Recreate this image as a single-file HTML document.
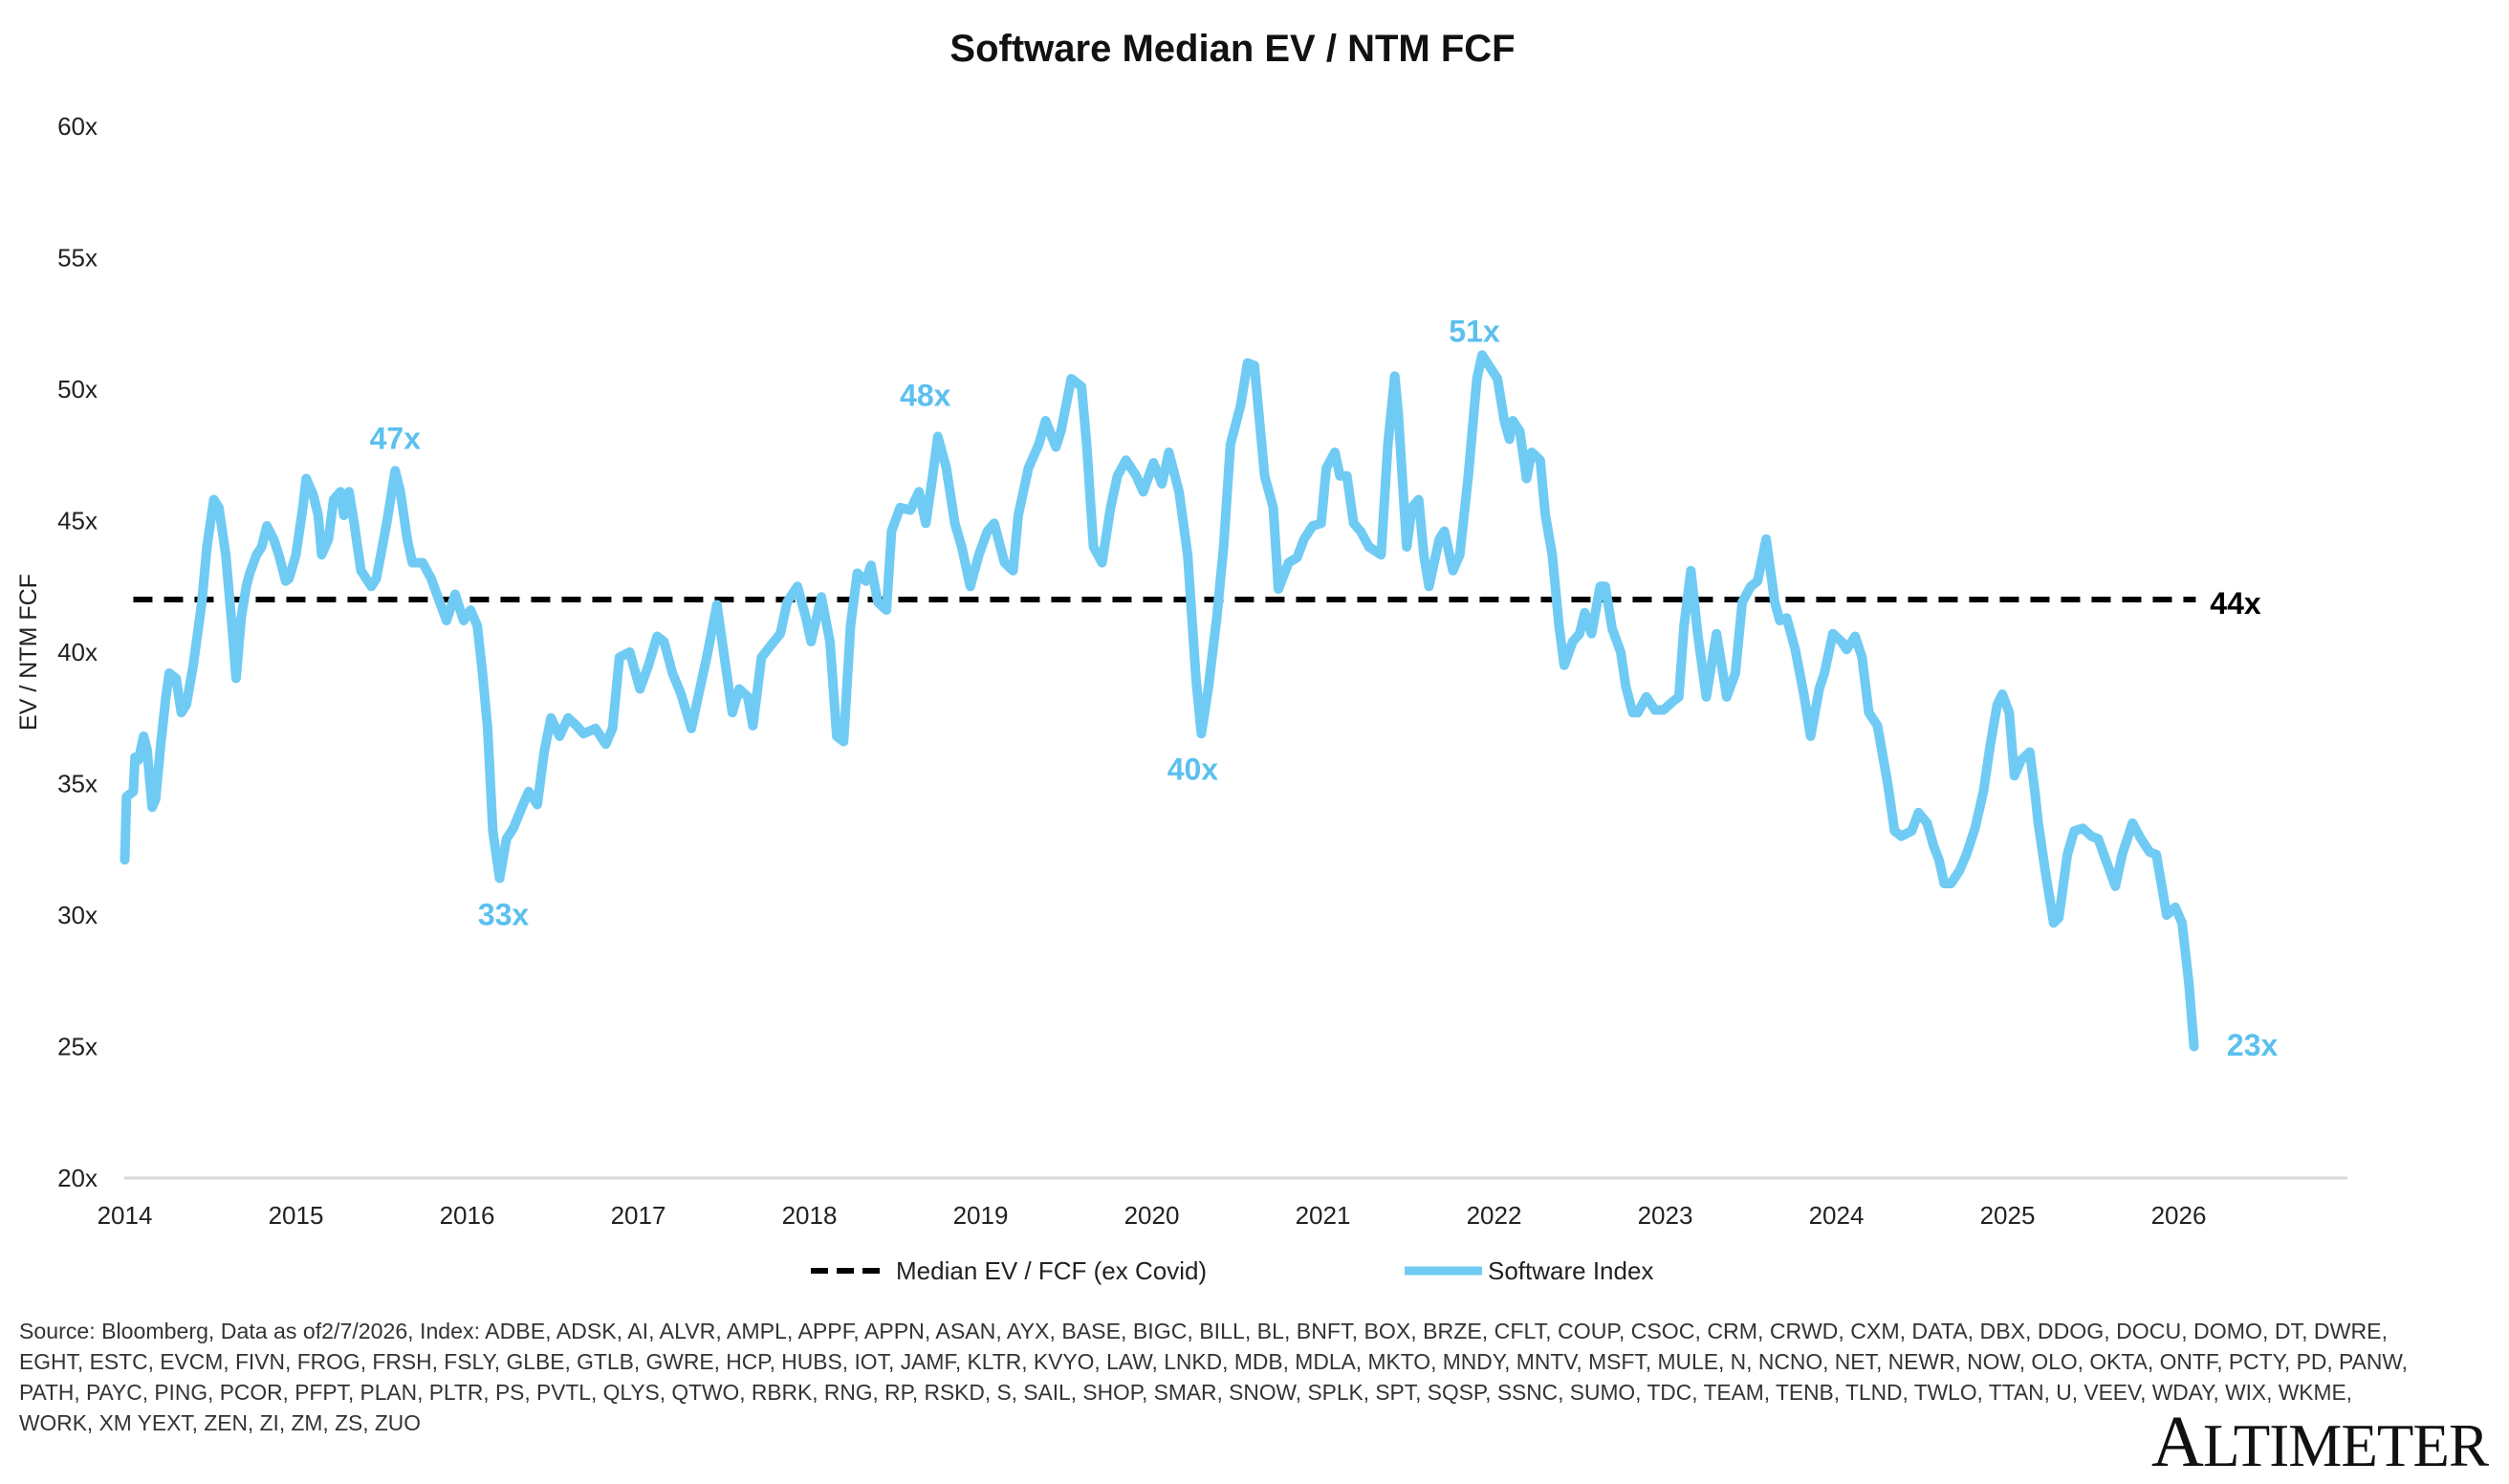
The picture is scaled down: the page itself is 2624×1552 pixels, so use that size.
<!DOCTYPE html>
<html><head><meta charset="utf-8"><style>
html,body{margin:0;padding:0;background:#fff;}
svg{display:block;font-family:"Liberation Sans",sans-serif;}
</style></head><body>
<svg id="chart" width="2624" height="1552" viewBox="0 0 2624 1552" xmlns="http://www.w3.org/2000/svg">
<text x="1289" y="64" text-anchor="middle" font-size="40" font-weight="bold" fill="#111">Software Median EV / NTM FCF</text>
<g id="yticks"></g>
<g id="xticks"></g>
<text transform="translate(38,682) rotate(-90)" text-anchor="middle" font-size="25" fill="#222">EV / NTM FCF</text>
<line x1="130" y1="1232" x2="2455" y2="1232" stroke="#d9d9d9" stroke-width="3"/>
<g id="marks"></g>
<g id="labels"></g>
<g>
<line x1="848" y1="1329" x2="925" y2="1329" stroke="#000" stroke-width="6" stroke-dasharray="18,9"/>
<text x="937" y="1338" font-size="26" fill="#222">Median EV / FCF (ex Covid)</text>
<line x1="1469" y1="1329" x2="1550" y2="1329" stroke="#6fcbf3" stroke-width="9"/>
<text x="1556" y="1338" font-size="26" fill="#222">Software Index</text>
</g>
<g font-size="23" fill="#333">
<text x="20" y="1400" textLength="2477" lengthAdjust="spacingAndGlyphs">Source: Bloomberg, Data as of2/7/2026, Index: ADBE, ADSK, AI, ALVR, AMPL, APPF, APPN, ASAN, AYX, BASE, BIGC, BILL, BL, BNFT, BOX,  BRZE, CFLT, COUP, CSOC, CRM, CRWD, CXM, DATA, DBX, DDOG, DOCU, DOMO, DT, DWRE,</text>
<text x="20" y="1432" textLength="2498" lengthAdjust="spacingAndGlyphs">EGHT, ESTC, EVCM, FIVN, FROG, FRSH, FSLY, GLBE, GTLB, GWRE, HCP, HUBS, IOT, JAMF, KLTR, KVYO, LAW, LNKD, MDB, MDLA, MKTO, MNDY, MNTV, MSFT, MULE, N, NCNO, NET, NEWR, NOW, OLO, OKTA, ONTF, PCTY, PD, PANW,</text>
<text x="20" y="1464" textLength="2440" lengthAdjust="spacingAndGlyphs">PATH, PAYC, PING, PCOR, PFPT, PLAN, PLTR, PS, PVTL, QLYS, QTWO, RBRK, RNG, RP, RSKD, S, SAIL, SHOP, SMAR, SNOW, SPLK, SPT, SQSP, SSNC, SUMO, TDC, TEAM, TENB, TLND, TWLO, TTAN, U, VEEV, WDAY, WIX, WKME,</text>
<text x="20" y="1496" textLength="420" lengthAdjust="spacingAndGlyphs">WORK, XM YEXT, ZEN, ZI, ZM, ZS, ZUO</text>
</g>
<text x="2250" y="1533" font-family="Liberation Serif, serif" fill="#111" textLength="353" lengthAdjust="spacing"><tspan font-size="76">A</tspan><tspan font-size="63">LTIMETER</tspan></text>
</svg>
<script>
const yTicks=[20,25,30,35,40,45,50,55,60];
const xTicks=[2014,2015,2016,2017,2018,2019,2020,2021,2022,2023,2024,2025,2026];
const medianValue=42;
const dates=[2014.00,2014.01,2014.05,2014.06,2014.08,2014.11,2014.13,2014.16,2014.18,2014.21,2014.24,2014.26,2014.30,2014.33,2014.36,2014.40,2014.45,2014.48,2014.52,2014.55,2014.59,2014.63,2014.65,2014.68,2014.71,2014.73,2014.77,2014.80,2014.83,2014.87,2014.90,2014.94,2014.96,2015.00,2015.04,2015.06,2015.10,2015.13,2015.15,2015.19,2015.22,2015.26,2015.28,2015.31,2015.34,2015.38,2015.44,2015.47,2015.53,2015.58,2015.61,2015.65,2015.68,2015.74,2015.79,2015.84,2015.88,2015.93,2015.98,2016.02,2016.06,2016.09,2016.12,2016.15,2016.19,2016.23,2016.27,2016.32,2016.36,2016.41,2016.45,2016.49,2016.54,2016.59,2016.64,2016.68,2016.75,2016.81,2016.85,2016.89,2016.95,2017.01,2017.06,2017.11,2017.15,2017.20,2017.25,2017.31,2017.36,2017.40,2017.46,2017.51,2017.55,2017.59,2017.64,2017.67,2017.72,2017.78,2017.83,2017.87,2017.93,2017.98,2018.01,2018.07,2018.12,2018.16,2018.20,2018.24,2018.28,2018.33,2018.36,2018.40,2018.45,2018.48,2018.53,2018.59,2018.64,2018.68,2018.72,2018.75,2018.80,2018.85,2018.89,2018.94,2018.99,2019.04,2019.08,2019.14,2019.19,2019.22,2019.28,2019.34,2019.38,2019.44,2019.47,2019.53,2019.59,2019.62,2019.66,2019.71,2019.76,2019.80,2019.85,2019.91,2019.95,2020.01,2020.06,2020.10,2020.16,2020.21,2020.26,2020.29,2020.33,2020.38,2020.42,2020.46,2020.52,2020.56,2020.60,2020.66,2020.71,2020.74,2020.80,2020.85,2020.89,2020.94,2020.99,2021.02,2021.07,2021.10,2021.14,2021.18,2021.22,2021.27,2021.34,2021.38,2021.42,2021.44,2021.49,2021.52,2021.56,2021.59,2021.62,2021.68,2021.71,2021.76,2021.80,2021.85,2021.90,2021.93,2021.99,2022.02,2022.06,2022.09,2022.11,2022.15,2022.19,2022.22,2022.27,2022.30,2022.34,2022.38,2022.41,2022.46,2022.50,2022.53,2022.57,2022.62,2022.65,2022.69,2022.74,2022.77,2022.81,2022.84,2022.89,2022.94,2022.99,2023.04,2023.08,2023.11,2023.15,2023.19,2023.24,2023.30,2023.36,2023.41,2023.45,2023.50,2023.54,2023.59,2023.64,2023.67,2023.71,2023.76,2023.81,2023.85,2023.90,2023.93,2023.98,2024.03,2024.06,2024.11,2024.15,2024.19,2024.24,2024.30,2024.34,2024.38,2024.44,2024.48,2024.53,2024.57,2024.60,2024.63,2024.67,2024.72,2024.76,2024.81,2024.86,2024.90,2024.94,2024.97,2025.01,2025.04,2025.08,2025.13,2025.16,2025.18,2025.22,2025.27,2025.30,2025.35,2025.39,2025.44,2025.49,2025.53,2025.58,2025.63,2025.67,2025.73,2025.78,2025.83,2025.87,2025.93,2025.98,2026.02,2026.06,2026.09];
const values=[32.1,34.5,34.7,36.0,35.9,36.8,36.3,34.1,34.4,36.5,38.3,39.2,39.0,37.7,38.0,39.5,41.9,44.0,45.8,45.5,43.7,40.7,39.0,41.3,42.5,43.0,43.7,44.0,44.8,44.3,43.7,42.7,42.8,43.7,45.5,46.6,46.0,45.2,43.7,44.3,45.8,46.1,45.2,46.1,44.9,43.1,42.5,42.8,44.9,46.9,46.1,44.3,43.4,43.4,42.8,41.9,41.2,42.2,41.2,41.6,41.0,39.2,37.1,33.2,31.4,32.9,33.3,34.1,34.7,34.2,36.2,37.5,36.8,37.5,37.2,36.9,37.1,36.5,37.1,39.8,40.0,38.6,39.5,40.6,40.4,39.2,38.4,37.1,38.6,39.8,41.8,39.5,37.7,38.6,38.3,37.2,39.8,40.3,40.7,41.9,42.5,41.3,40.4,42.1,40.4,36.8,36.6,41.0,43.0,42.7,43.3,41.9,41.6,44.6,45.5,45.4,46.1,44.9,46.7,48.2,47.0,44.9,44.0,42.5,43.7,44.6,44.9,43.4,43.1,45.2,47.0,47.9,48.8,47.8,48.4,50.4,50.1,47.9,44.0,43.4,45.5,46.7,47.3,46.7,46.1,47.2,46.4,47.6,46.1,43.7,38.9,36.9,38.6,41.3,44.0,47.9,49.4,51.0,50.9,46.7,45.5,42.4,43.4,43.6,44.3,44.8,44.9,47.0,47.6,46.7,46.7,44.9,44.6,44.0,43.7,47.9,50.5,49.1,44.0,45.5,45.8,43.7,42.5,44.3,44.6,43.1,43.7,46.7,50.4,51.3,50.7,50.4,48.8,48.1,48.8,48.4,46.6,47.6,47.3,45.2,43.7,41.0,39.5,40.4,40.7,41.5,40.7,42.5,42.5,40.9,40.0,38.7,37.7,37.7,38.3,37.8,37.8,38.1,38.3,41.0,43.1,40.7,38.3,40.7,38.3,39.2,41.9,42.5,42.7,44.3,41.9,41.2,41.3,40.1,38.4,36.8,38.6,39.2,40.7,40.4,40.1,40.6,39.8,37.7,37.2,35.0,33.2,33.0,33.2,33.9,33.5,32.6,32.1,31.2,31.2,31.7,32.3,33.3,34.7,36.5,38.0,38.4,37.7,35.3,35.9,36.2,34.7,33.5,31.7,29.7,29.9,32.3,33.2,33.3,33.0,32.9,32.0,31.1,32.3,33.5,32.9,32.4,32.3,30.0,30.3,29.7,27.4,25.0];
const annLabels=["47x","33x","48x","40x","51x"];
const annDates=[2015.58,2016.19,2018.75,2020.29,2021.93];
const annValues=[47,31.4,48.2,36.9,51.3];
const NS="http://www.w3.org/2000/svg";
const annOffX={"47x":0,"33x":4,"48x":-13,"40x":-9,"51x":-8};
const annOffY={"47x":-20,"33x":49,"48x":-32,"40x":48,"51x":-14};
function xs(d){return 130.5+(d-2014)*179;}
function ys(v){return 1232-(v-20)*27.5;}
function mk(t){return document.createElementNS(NS,t);}
const yg=document.getElementById('yticks');
yTicks.forEach(v=>{const t=mk('text');


t.setAttribute('x',102);t.setAttribute('y',ys(v)+9);t.setAttribute('text-anchor','end');t.setAttribute('font-size','26');t.setAttribute('fill','#222');t.textContent=v+'x';yg.appendChild(t);});
const xg=document.getElementById('xticks');
xTicks.forEach(v=>{const t=mk('text');


t.setAttribute('x',xs(v));t.setAttribute('y',1280);t.setAttribute('text-anchor','middle');t.setAttribute('font-size','26');t.setAttribute('fill','#222');t.textContent=v;xg.appendChild(t);});
const mg=document.getElementById('marks');
const med=mk('line');


med.setAttribute('x1',xs(2014.05));med.setAttribute('x2',xs(2026.1));med.setAttribute('y1',ys(medianValue));med.setAttribute('y2',ys(medianValue));
med.setAttribute('stroke','#000');med.setAttribute('stroke-width','6');med.setAttribute('stroke-dasharray','20,12');mg.appendChild(med);
const p=mk('path');


p.setAttribute('d',dates.map((d,i)=>(i?'L':'M')+xs(d).toFixed(1)+','+ys(values[i]).toFixed(1)).join(''));
p.setAttribute('fill','none');p.setAttribute('stroke','#6fcbf3');p.setAttribute('stroke-width','10');p.setAttribute('stroke-linejoin','round');p.setAttribute('stroke-linecap','round');mg.appendChild(p);
const lg=document.getElementById('labels');
function lab(txt,x,y,col,name){const t=mk('text');


t.setAttribute('x',x);t.setAttribute('y',y);t.setAttribute('text-anchor','middle');t.setAttribute('font-size','32');t.setAttribute('font-weight','bold');t.setAttribute('fill',col);t.textContent=txt;lg.appendChild(t);}
annLabels.forEach((l,i)=>{lab(l,xs(annDates[i])+annOffX[l],ys(annValues[i])+annOffY[l],'#5bc0ef','annotation-label');});
lab('44x',2338,642,'#000','median-value-label');
lab('23x',xs(dates[dates.length-1])+61,1104,'#5bc0ef','latest-value-label');
</script>
</body></html>
